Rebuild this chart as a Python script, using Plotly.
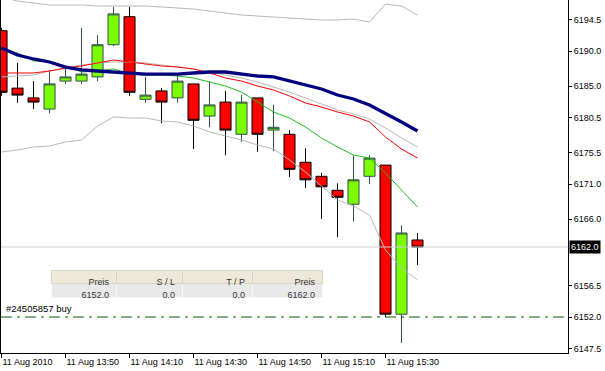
import plotly.graph_objects as go

# ---------------- data ----------------
times = ["2010-08-11 13:30", "2010-08-11 13:35", "2010-08-11 13:40", "2010-08-11 13:45",
         "2010-08-11 13:50", "2010-08-11 13:55", "2010-08-11 14:00", "2010-08-11 14:05",
         "2010-08-11 14:10", "2010-08-11 14:15", "2010-08-11 14:20", "2010-08-11 14:25",
         "2010-08-11 14:30", "2010-08-11 14:35", "2010-08-11 14:40", "2010-08-11 14:45",
         "2010-08-11 14:50", "2010-08-11 14:55", "2010-08-11 15:00", "2010-08-11 15:05",
         "2010-08-11 15:10", "2010-08-11 15:15", "2010-08-11 15:20", "2010-08-11 15:25",
         "2010-08-11 15:30", "2010-08-11 15:35", "2010-08-11 15:40"]

opens = [6192.9, 6184.7, 6183.3, 6181.7, 6185.7, 6185.7, 6186.3, 6190.9, 6194.9, 6183.1,
         6184.3, 6183.3, 6185.3, 6180.7, 6182.7, 6178.1, 6183.3, 6178.7, 6178.1, 6174.1,
         6172.1, 6170.1, 6168.1, 6172.1, 6173.7, 6152.4, 6163.0]
highs = [6193.3, 6188.3, 6185.7, 6187.3, 6187.7, 6193.3, 6192.3, 6196.3, 6196.3, 6186.3,
         6184.7, 6186.6, 6185.3, 6185.7, 6184.3, 6183.7, 6183.3, 6182.3, 6178.7, 6176.1,
         6172.6, 6171.1, 6175.1, 6175.1, 6173.7, 6165.1, 6164.0]
lows = [6183.6, 6182.6, 6181.7, 6181.1, 6185.3, 6185.3, 6185.7, 6190.7, 6183.6, 6182.6,
        6179.7, 6182.6, 6176.0, 6179.1, 6175.1, 6177.0, 6175.6, 6175.7, 6172.0, 6170.4,
        6166.0, 6163.4, 6165.6, 6171.0, 6152.0, 6148.3, 6159.4]
closes = [6184.1, 6183.7, 6182.7, 6185.3, 6186.3, 6186.7, 6190.9, 6195.3, 6184.1, 6183.7,
          6182.7, 6185.7, 6180.1, 6182.3, 6178.7, 6182.7, 6178.1, 6179.1, 6173.1, 6171.6,
          6170.6, 6169.1, 6171.6, 6174.7, 6152.4, 6164.0, 6162.0]

ma_slow = [6190.43, 6189.43, 6188.86, 6188.43, 6187.71, 6187.29, 6187.14, 6187.00, 6186.86,
           6186.71, 6186.71, 6186.71, 6186.86, 6187.00, 6187.00, 6186.71, 6186.43, 6186.29,
           6185.71, 6185.14, 6184.57, 6183.71, 6183.14, 6182.29, 6181.14, 6179.86, 6178.57]
ma_mid = [6186.86, 6186.86, 6186.86, 6187.14, 6187.57, 6187.86, 6188.29, 6188.71, 6188.43,
          6188.14, 6187.86, 6187.71, 6187.43, 6186.86, 6186.14, 6185.71, 6185.00, 6184.43,
          6183.57, 6182.57, 6182.00, 6181.29, 6180.71, 6179.86, 6177.71, 6176.00, 6174.71]
ma_fast = [6190.43, 6189.71, 6188.57, 6188.43, 6187.86, 6187.00, 6187.14, 6187.43, 6186.71,
           6186.57, 6186.57, 6186.43, 6186.14, 6185.57, 6185.00, 6184.14, 6182.71, 6181.29,
           6180.43, 6179.14, 6177.57, 6176.29, 6175.14, 6174.71, 6172.57, 6170.14, 6167.71]
bb_upper = [6197.71, 6197.14, 6196.86, 6196.57, 6196.57, 6196.57, 6196.43, 6196.43, 6196.43,
            6196.43, 6196.29, 6196.14, 6196.00, 6195.71, 6195.43, 6195.14, 6195.00, 6194.86,
            6194.71, 6194.57, 6194.43, 6194.43, 6194.57, 6194.14, 6196.71, 6196.43, 6195.14]
bb_middle = [6186.29, 6186.43, 6186.57, 6187.14, 6187.57, 6188.00, 6188.29, 6188.43, 6188.43,
             6188.29, 6188.00, 6187.71, 6187.43, 6187.00, 6186.57, 6186.14, 6185.57, 6184.86,
             6184.14, 6183.29, 6182.43, 6181.57, 6181.00, 6180.29, 6179.00, 6177.57, 6176.29]
bb_lower = [6175.57, 6175.86, 6176.29, 6176.43, 6177.00, 6177.29, 6179.29, 6180.57, 6180.43,
            6180.43, 6180.00, 6179.86, 6179.29, 6178.43, 6177.86, 6177.29, 6176.57, 6176.00,
            6174.43, 6172.71, 6170.71, 6168.71, 6167.86, 6166.57, 6161.57, 6159.00, 6157.29]

x_tick_vals = ["2010-08-11 13:30", "2010-08-11 13:50", "2010-08-11 14:10", "2010-08-11 14:30",
               "2010-08-11 14:50", "2010-08-11 15:10", "2010-08-11 15:30"]
x_tick_text = ["11 Aug 2010", "11 Aug 13:50", "11 Aug 14:10", "11 Aug 14:30",
               "11 Aug 14:50", "11 Aug 15:10", "11 Aug 15:30"]
y_tick_vals = [6194.5, 6190.0, 6185.0, 6180.5, 6175.5, 6171.0, 6166.0, 6156.5, 6152.0, 6147.5]

order_label = "#24505857 buy"
order_price = 6152.0
order_sl = 0.0
order_tp = 0.0
table_headers = ["Preis", "S / L", "T / P", "Preis"]

x_range = ["2010-08-11 13:29:50", "2010-08-11 16:27:02"]
y_range = [6146.857, 6197.286]

FONT = "Liberation Sans, Arial, sans-serif"

fig = go.Figure()

# horizontal lines (bid & order)
fig.add_trace(go.Scatter(x=x_range, y=[closes[-1], closes[-1]], mode="lines",
                         line=dict(color="#CFCFCF", width=1), hoverinfo="skip", showlegend=False))
fig.add_trace(go.Scatter(x=x_range, y=[order_price, order_price], mode="lines",
                         line=dict(color="#006000", width=1.2, dash="11px,5px,3px,5px"),
                         hoverinfo="skip", showlegend=False))

# indicator lines
for vals, col, w in [(bb_upper, "#B8B8B8", 1), (bb_lower, "#B8B8B8", 1), (bb_middle, "#B8B8B8", 1),
                     (ma_mid, "#FF0000", 1), (ma_fast, "#1EBE1E", 1), (ma_slow, "#000080", 3.3)]:
    fig.add_trace(go.Scatter(x=times, y=vals, mode="lines", line=dict(color=col, width=w),
                             hoverinfo="skip", showlegend=False))

fig.add_trace(go.Candlestick(
    x=times, open=opens, high=highs, low=lows, close=closes,
    increasing=dict(fillcolor="#7CFC00", line=dict(color="#2F4F4F", width=1)),
    decreasing=dict(fillcolor="#FF0000", line=dict(color="#000000", width=1)),
    whiskerwidth=0, showlegend=False))

# order table
fig.add_trace(go.Table(
    domain=dict(x=[0.0899, 0.568], y=[0.152, 0.235]),
    columnwidth=[65, 66, 70, 70],
    header=dict(values=table_headers, fill_color="#ECE9D8", align="right",
                font=dict(family=FONT, size=9, color="#333333"), height=13,
                line=dict(color="#D8D5C6", width=1)),
    cells=dict(values=[[order_price], [order_sl], [order_tp], [closes[-1]]], format=[".1f"] * 4,
               fill_color="#E9E9E9", align="right",
               font=dict(family=FONT, size=9, color="#333333"), height=14,
               line=dict(color="#F6F6F6", width=1)),
))

fig.add_annotation(x=0.006, xref="paper", y=order_price, yref="y", text=order_label,
                   showarrow=False, xanchor="left", yanchor="bottom", yshift=1,
                   font=dict(family=FONT, size=9.5, color="#000000"))

fig.add_annotation(x=1, xref="paper", y=closes[-1], yref="y", text=f"{closes[-1]:.1f}",
                   showarrow=False, xanchor="left", yanchor="middle", xshift=1,
                   bgcolor="#000000", borderpad=1,
                   font=dict(family=FONT, size=9, color="#FFFFFF"))

fig.update_layout(
    width=605, height=371,
    margin=dict(l=1, r=37, t=0, b=18, pad=0),
    paper_bgcolor="white", plot_bgcolor="white",
    boxgap=0.31, boxgroupgap=0,
    font=dict(family=FONT, size=9, color="#000000"),
    showlegend=False,
    xaxis=dict(type="date", range=x_range, tickvals=x_tick_vals, ticktext=x_tick_text,
               ticks="outside", ticklen=4, tickcolor="#000000", showline=True,
               linecolor="#000000", linewidth=1, showgrid=False, zeroline=False,
               ticklabelposition="outside right", rangeslider=dict(visible=False),
               tickfont=dict(family=FONT, size=9, color="#000000")),
    yaxis=dict(side="right", range=y_range, tickvals=y_tick_vals, tickformat=".1f",
               ticks="outside", ticklen=3, tickcolor="#000000", showline=True, mirror=True,
               linecolor="#000000", linewidth=1, showgrid=False, zeroline=False,
               tickfont=dict(family=FONT, size=9, color="#000000")),
)

fig.write_html("out.html", config={"displayModeBar": False},
               post_script="document.body.style.margin='0';document.body.style.overflow='hidden';")
